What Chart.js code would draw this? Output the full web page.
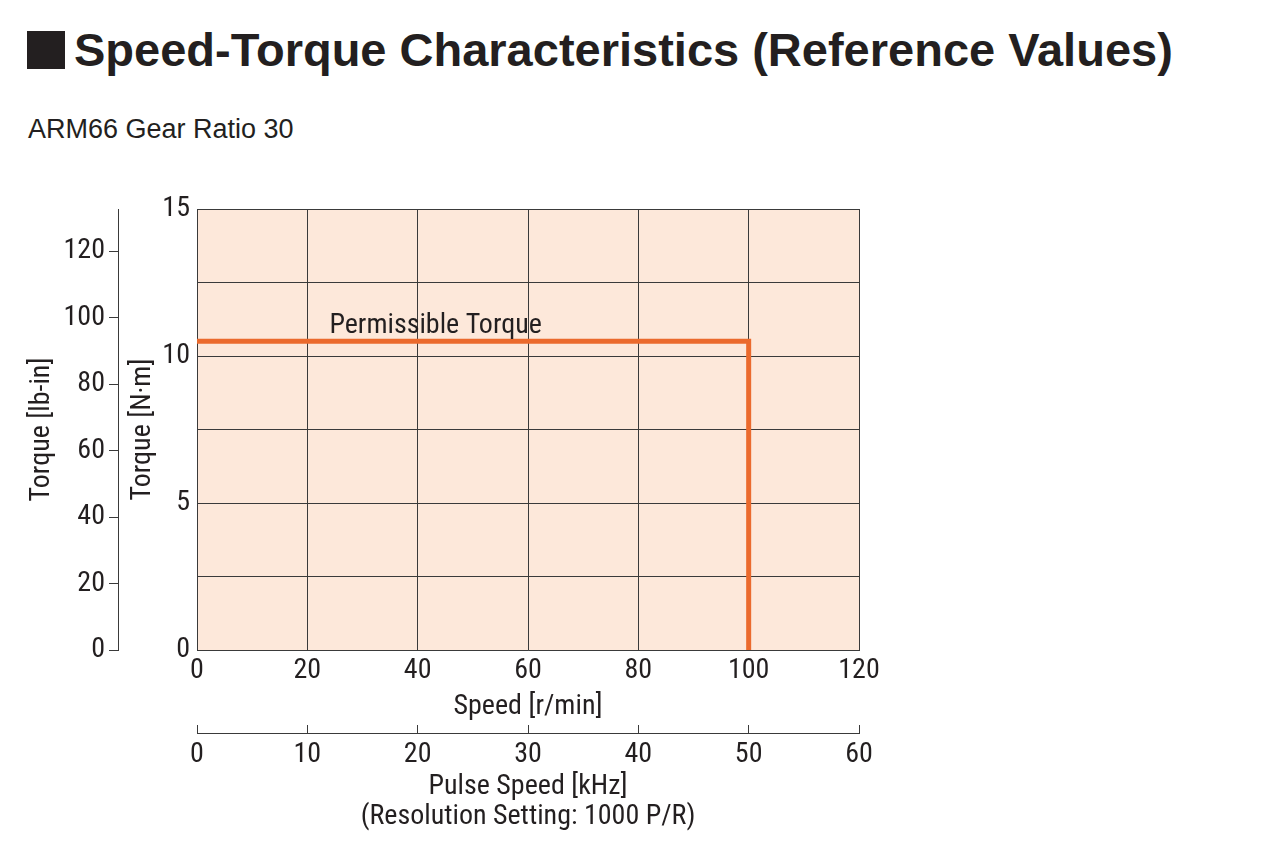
<!DOCTYPE html>
<html>
<head>
<meta charset="utf-8">
<script src="https://cdn.jsdelivr.net/npm/chart.js@4/dist/chart.umd.min.js"></script>
<style>
  body { margin: 0; background: #fff; }
  #caja { position: relative; width: 1280px; height: 846px; }
  #titulo { position: absolute; left: 27px; top: 22px; font: bold 47px 'Liberation Sans', Arial, sans-serif; color: #231f20; display: flex; align-items: center; white-space: nowrap; }
  #titulo .cuadro { width: 38px; height: 38px; background: #231f20; margin-right: 9px; }
  #sub { position: absolute; left: 28px; top: 114px; font: 27px 'Liberation Sans', Arial, sans-serif; color: #231f20; white-space: nowrap; }
  canvas { position: absolute; left: 0; top: 0; }
</style>
</head>
<body>
<div id="caja">
  <div id="titulo"><div class="cuadro"></div>Speed-Torque Characteristics (Reference Values)</div>
  <div id="sub">ARM66 Gear Ratio 30</div>
  <canvas id="grafico" width="1280" height="846"></canvas>
</div>
<script>
// datos de la curva (velocidad r/min, torque N·m)
const velocidad = [0, 100, 100];
const torque = [10.5, 10.5, 0];
const etiquetaCurva = "Permissible Torque";

// rangos de los ejes
const rangoVelocidad = [0, 120];
const rangoPulsos = [0, 60];
const rangoTorqueNm = [0, 15];
const factorLbIn = 8.8507;

const fuente = "'Liberation Sans Narrow', 'Roboto Condensed', 'DejaVu Sans Condensed', sans-serif";
const colorTexto = "#231f20";
const colorGrilla = "#3a3a3a";
const naranja = "#eb6a2d";

const fondoArea = {
  id: "fondoArea",
  beforeDraw(chart) {
    const { ctx, chartArea: a } = chart;
    ctx.save();
    ctx.fillStyle = "#fde8da";
    ctx.fillRect(a.left, a.top, a.width, a.height);
    ctx.restore();
  }
};

const textoCurva = {
  id: "textoCurva",
  afterDatasetsDraw(chart) {
    const { ctx, scales: { x, y } } = chart;
    ctx.save();
    ctx.font = "28px " + fuente;
    ctx.fillStyle = colorTexto;
    ctx.textBaseline = "bottom";
    ctx.fillText(etiquetaCurva, x.getPixelForValue(24), y.getPixelForValue(torque[0]) - 1);
    ctx.restore();
  }
};

const fTick = { family: fuente, size: 28, lineHeight: 1.07 };

new Chart(document.getElementById("grafico"), {
  type: "scatter",
  data: {
    datasets: [{
      label: etiquetaCurva,
      data: velocidad.map((v, i) => ({ x: v, y: torque[i] })),
      showLine: true,
      borderColor: naranja,
      borderWidth: 5,
      pointRadius: 0,
      borderJoinStyle: "miter",
      xAxisID: "x",
      yAxisID: "y"
    }]
  },
  options: {
    responsive: false,
    animation: false,
    layout: { padding: { left: 10, right: 421, top: 209, bottom: 13 } },
    plugins: { legend: { display: false }, tooltip: { enabled: false } },
    scales: {
      x: {
        type: "linear", position: "bottom", weight: 0,
        min: rangoVelocidad[0], max: rangoVelocidad[1],
        ticks: { stepSize: 20, padding: 6, color: colorTexto, font: fTick, autoSkip: false, maxRotation: 0 },
        grid: { color: colorGrilla, lineWidth: 1, drawTicks: false },
        border: { color: colorGrilla, width: 1 },
        title: { display: true, text: "Speed [r/min]", color: colorTexto, font: fTick, padding: { top: 0, bottom: 11 } },
        afterFit(s) { s.height = 83; }
      },
      x2: {
        type: "linear", position: "bottom", weight: 1,
        min: rangoPulsos[0], max: rangoPulsos[1],
        ticks: { stepSize: 10, padding: 15, color: colorTexto, font: fTick, autoSkip: false, maxRotation: 0 },
        grid: { color: colorGrilla, lineWidth: 1, drawOnChartArea: false, tickLength: -8 },
        border: { color: colorGrilla, width: 1 },
        title: { display: true, text: ["Pulse Speed [kHz]", "(Resolution Setting: 1000 P/R)"], color: colorTexto, font: fTick, padding: { top: 0, bottom: 1 } },
        afterFit(s) { s.height = 100; }
      },
      y: {
        type: "linear", position: "left", weight: 0,
        min: rangoTorqueNm[0], max: rangoTorqueNm[1],
        ticks: { stepSize: 2.5, padding: 7, color: colorTexto, font: fTick, autoSkip: false,
                 callback: v => (v % 5 === 0 ? v : "") },
        grid: { color: colorGrilla, lineWidth: 1, drawTicks: false },
        border: { color: colorGrilla, width: 1 },
        title: { display: true, text: "Torque [N·m]", color: colorTexto, font: fTick, padding: { top: 10, bottom: 0 } },
        afterFit(s) { s.width = 79; }
      },
      y2: {
        type: "linear", position: "left", weight: 1,
        min: rangoTorqueNm[0] * factorLbIn, max: rangoTorqueNm[1] * factorLbIn,
        ticks: { stepSize: 20, padding: 4, color: colorTexto, font: fTick, autoSkip: false, includeBounds: false },
        grid: { color: colorGrilla, lineWidth: 1, drawOnChartArea: false, tickLength: 9 },
        border: { color: colorGrilla, width: 1 },
        title: { display: true, text: "Torque [lb-in]", color: colorTexto, font: fTick, padding: { top: 17, bottom: 0 } },
        afterFit(s) { s.width = 108; }
      }
    }
  },
  plugins: [fondoArea, textoCurva]
});
</script>
</body>
</html>
